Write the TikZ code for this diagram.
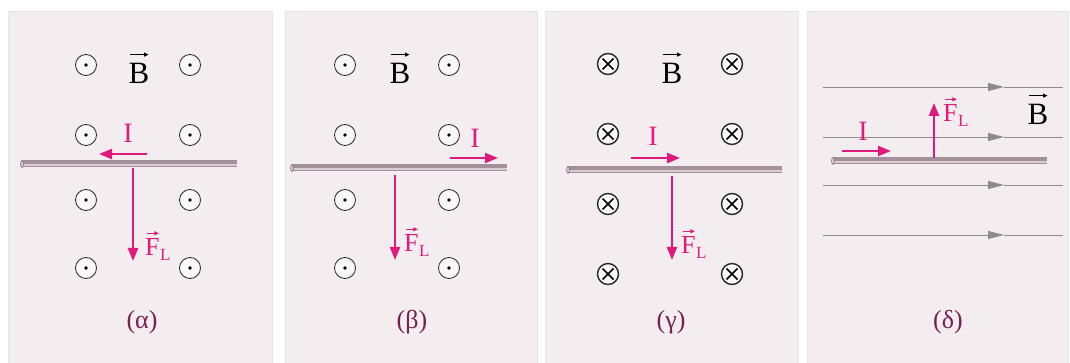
\documentclass[tikz,border=0pt]{standalone}
\usepackage{fontspec}
\setmainfont{Liberation Serif}
\usetikzlibrary{arrows.meta,positioning}
\definecolor{panelbg}{HTML}{F3EDF0}
\definecolor{lorentz}{HTML}{E0197D}
\definecolor{captioncol}{HTML}{76214F}
\definecolor{wiregrey}{HTML}{A3909B}
\definecolor{wirelight}{HTML}{D9CDD3}
\tikzset{
  panel/.style={fill=panelbg, draw=black!10, line width=1pt},
  fieldout/.style={circle, draw=black!85, fill=white!55!panelbg, line width=0.8pt, minimum size=21pt, inner sep=0pt,
    path picture={\fill[black] (path picture bounding box.center) circle (1.8pt);}},
  fieldin/.style={circle, draw=black!85, fill=white!55!panelbg, line width=1.4pt, minimum size=21pt, inner sep=0pt,
    path picture={\draw[black, line width=1.7pt]
      ([shift={(-5.5pt,-5.5pt)}]path picture bounding box.center) -- ([shift={(5.5pt,5.5pt)}]path picture bounding box.center)
      ([shift={(-5.5pt,5.5pt)}]path picture bounding box.center) -- ([shift={(5.5pt,-5.5pt)}]path picture bounding box.center);}},
  wire/.style={line width=7pt, wiregrey},
  wirehi/.style={line width=2pt, wirelight},
  wireend/.style={draw=wiregrey!70!black, fill=wirelight, line width=0.6pt},
  arr/.style={-{Triangle[length=13pt,width=10pt]}, line width=2.3pt, lorentz},
  fieldline/.style={line width=0.8pt, black!45},
  fieldtip/.style={-{Triangle[length=16pt,width=8pt]}, line width=0.8pt, black!45},
  bname/.style={font=\fontsize{31}{33}\selectfont, inner sep=0pt},
  lname/.style={font=\fontsize{28}{30}\selectfont, text=lorentz, inner sep=0pt},
  fname/.style={font=\fontsize{26}{28}\selectfont, text=lorentz, inner sep=0pt},
  subname/.style={font=\fontsize{17}{18}\selectfont, text=lorentz, inner sep=0pt},
  vecarr/.style={-{Triangle[length=4.5pt,width=4pt]}, line width=0.9pt, shorten <=2pt, shorten >=1pt},
  caption/.style={font=\fontsize{26}{28}\selectfont, text=captioncol, inner sep=0pt}
}

\begin{document}
\begin{tikzpicture}[x=1pt, y=-1pt]
\useasboundingbox (0,0) rectangle (1070,363);
% panels
\draw[panel] (8,12) rectangle (272,370);
\draw[panel] (285,12) rectangle (537,370);
\draw[panel] (545,12) rectangle (798,370);
\draw[panel] (807,12) rectangle (1068,370);

% (alpha)
\foreach \r/\y in {1/65,2/135,3/200,4/268}
  \foreach \c/\x in {1/86,2/190}
    \node[fieldout] (a\r\c) at (\x,\y) {};
\node[bname] (aB) at (139,73) {B};
\draw[vecarr] ([yshift=8pt]aB.north west) -- ([yshift=8pt]aB.north east);
\coordinate (aw1) at (22,164);
\coordinate (aw2) at (237,164);
\draw[wire] (aw1) -- (aw2);
\draw[wirehi] ([yshift=-1.5pt]aw1) -- ([yshift=-1.5pt]aw2);
\draw[wireend] (aw1) ellipse (1.4pt and 3.5pt);
\coordinate (aI1) at (147,154);
\coordinate (aI2) at (99,154);
\draw[arr] (aI1) -- (aI2);
\node[lname] (aI) at (128,133) {I};
\coordinate (aF1) at (133,168);
\coordinate (aF2) at (133,261);
\draw[arr] (aF1) -- (aF2);
\node[fname, anchor=west] (aF) at (145,247) {F};
\node[subname, anchor=base west] (aL) at ([yshift=-5pt]aF.base east) {L};
\draw[vecarr, lorentz] ([yshift=5pt]aF.north west) -- ([yshift=5pt]aF.north east);
\node[caption] (acap) at (142,322) {(α)};

% (beta)
\foreach \r/\y in {1/65,2/135,3/200,4/268}
  \foreach \c/\x in {1/345,2/449}
    \node[fieldout] (b\r\c) at (\x,\y) {};
\node[bname] (bB) at (400,73) {B};
\draw[vecarr] ([yshift=8pt]bB.north west) -- ([yshift=8pt]bB.north east);
\coordinate (bw1) at (292,168);
\coordinate (bw2) at (507,168);
\draw[wire] (bw1) -- (bw2);
\draw[wirehi] ([yshift=-1.5pt]bw1) -- ([yshift=-1.5pt]bw2);
\draw[wireend] (bw1) ellipse (1.4pt and 3.5pt);
\coordinate (bI1) at (450,158);
\coordinate (bI2) at (498,158);
\draw[arr] (bI1) -- (bI2);
\node[lname] (bI) at (475,138) {I};
\coordinate (bF1) at (395,175);
\coordinate (bF2) at (395,260);
\draw[arr] (bF1) -- (bF2);
\node[fname, anchor=west] (bF) at (404,243) {F};
\node[subname, anchor=base west] (bL) at ([yshift=-5pt]bF.base east) {L};
\draw[vecarr, lorentz] ([yshift=5pt]bF.north west) -- ([yshift=5pt]bF.north east);
\node[caption] (bcap) at (412,322) {(β)};

% (gamma)
\foreach \r/\y in {1/64,2/134,3/204,4/274}
  \foreach \c/\x in {1/608,2/732}
    \node[fieldin] (c\r\c) at (\x,\y) {};
\node[bname] (cB) at (672,73) {B};
\draw[vecarr] ([yshift=8pt]cB.north west) -- ([yshift=8pt]cB.north east);
\coordinate (cw1) at (568,170);
\coordinate (cw2) at (782,170);
\draw[wire] (cw1) -- (cw2);
\draw[wirehi] ([yshift=-1.5pt]cw1) -- ([yshift=-1.5pt]cw2);
\draw[wireend] (cw1) ellipse (1.4pt and 3.5pt);
\coordinate (cI1) at (631,158);
\coordinate (cI2) at (680,158);
\draw[arr] (cI1) -- (cI2);
\node[lname] (cI) at (653,136) {I};
\coordinate (cF1) at (672,176);
\coordinate (cF2) at (672,260);
\draw[arr] (cF1) -- (cF2);
\node[fname, anchor=west] (cF) at (681,245) {F};
\node[subname, anchor=base west] (cL) at ([yshift=-5pt]cF.base east) {L};
\draw[vecarr, lorentz] ([yshift=5pt]cF.north west) -- ([yshift=5pt]cF.north east);
\node[caption] (ccap) at (671,322) {(γ)};

% (delta)
\foreach \i/\y in {1/87,2/137,3/185,4/235} {
  \coordinate (d\i w) at (823,\y);
  \coordinate (d\i m) at (1004,\y);
  \coordinate (d\i e) at (1063,\y);
  \draw[fieldtip] (d\i w) -- (d\i m);
  \draw[fieldline] (d\i m) -- (d\i e);
}
\node[bname] (dB) at (1038,114) {B};
\draw[vecarr] ([yshift=8pt]dB.north west) -- ([yshift=8pt]dB.north east);
\coordinate (dw1) at (833,161);
\coordinate (dw2) at (1047,161);
\draw[wire] (dw1) -- (dw2);
\draw[wirehi] ([yshift=-1.5pt]dw1) -- ([yshift=-1.5pt]dw2);
\draw[wireend] (dw1) ellipse (1.4pt and 3.5pt);
\coordinate (dI1) at (842,151);
\coordinate (dI2) at (891,151);
\draw[arr] (dI1) -- (dI2);
\node[lname] (dI) at (863,131) {I};
\coordinate (dF1) at (934,158);
\coordinate (dF2) at (934,103);
\draw[arr] (dF1) -- (dF2);
\node[fname, anchor=west] (dF) at (943,113) {F};
\node[subname, anchor=base west] (dL) at ([yshift=-5pt]dF.base east) {L};
\draw[vecarr, lorentz] ([yshift=5pt]dF.north west) -- ([yshift=5pt]dF.north east);
\node[caption] (dcap) at (948,322) {(δ)};
\end{tikzpicture}
\end{document}
